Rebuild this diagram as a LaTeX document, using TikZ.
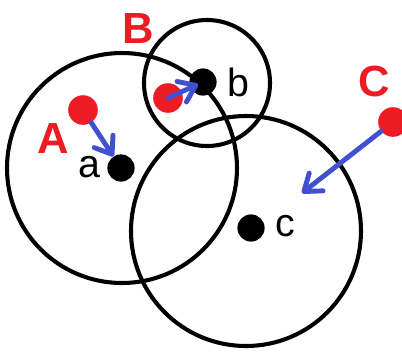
\documentclass[tikz,border=0pt]{standalone}
\usepackage{fontspec}
\setmainfont{Liberation Sans}
\usetikzlibrary{arrows.meta}

\definecolor{doDiem}{RGB}{237,28,36}
\definecolor{xanhMuiTen}{RGB}{64,80,208}

\begin{document}
\begin{tikzpicture}[x=0.025cm,y=-0.025cm,
    vong/.style={line width=2.9pt},
    chamden/.style={circle,fill=black,inner sep=0pt,minimum size=0.68cm},
    chamdo/.style={circle,fill=doDiem,inner sep=0pt,minimum size=0.74cm},
    nhanden/.style={inner sep=0pt,font=\fontsize{28}{28}\selectfont},
    nhando/.style={inner sep=0pt,text=doDiem,font=\fontsize{31}{31}\selectfont\bfseries},
    muiten/.style={draw=xanhMuiTen,line width=3.5pt,line cap=round,
        -{Straight Barb[length=11pt,width=16pt,line cap=round,line join=round]}}]
    \useasboundingbox (0,0) rectangle (402,351);
    % Cac vong tron
    \draw[vong] (122,168) circle[radius=115];
    \draw[vong] (207,83) circle[radius=63];
    \draw[vong] (246,231) circle[radius=115];
    % Cac diem den
    \node[chamden] (a) at (121,168) {};
    \node[chamden] (b) at (203,82) {};
    \node[chamden] (c) at (251,228) {};
    % Cac diem do
    \node[chamdo] (A) at (83,110) {};
    \node[chamdo] (B) at (168,98) {};
    \node[chamdo] (C) at (393,122) {};
    \coordinate (Cdich) at (302,193);
    % Mui ten
    \draw[muiten] (A) -- (a);
    \draw[muiten,shorten >=-6pt] (B.center) -- (b);
    \draw[muiten] (C) -- (Cdich);
    % Nhan
    \node[nhando] (nhanA) at (53,138) {A};
    \node[nhando] (nhanB) at (138,28) {B};
    \node[nhando] (nhanC) at (374,81) {C};
    \node[nhanden] (nhana) at (89,167) {a};
    \node[nhanden] (nhanb) at (238,82) {b};
    \node[nhanden] (nhanc) at (285,226) {c};
\end{tikzpicture}
\end{document}
